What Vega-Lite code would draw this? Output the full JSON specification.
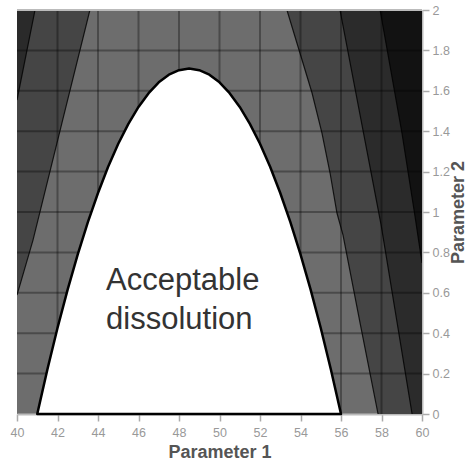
{
  "$schema": "https://vega.github.io/schema/vega-lite/v6.json",
  "width": 405,
  "height": 404,
  "autosize": {"type": "none"},
  "padding": {"left": 17, "top": 10, "right": 49, "bottom": 55},
  "config": {
    "view": {"fill": "#6d6d6d", "stroke": null},
    "font": "Liberation Sans",
    "axis": {
      "grid": false,
      "domainColor": "#bbbbbb",
      "domainWidth": 2,
      "tickColor": "#aaaaaa",
      "tickSize": 7,
      "tickWidth": 1.5,
      "labelColor": "#999999",
      "labelFontSize": 12.5,
      "labelFont": "Liberation Sans",
      "labelFlush": false,
      "labelOverlap": false,
      "titleFont": "Liberation Sans",
      "titleFontSize": 18,
      "titleFontWeight": "bold",
      "titleColor": "#555555"
    }
  },
  "datasets": {
    "bands": [
      {"id": "L2", "y": 0.589, "x": 40, "xe": 40},
      {"id": "L2", "y": 0.861, "x": 40.79, "xe": 40},
      {"id": "L2", "y": 1.441, "x": 42.22, "xe": 40},
      {"id": "L2", "y": 2, "x": 43.6, "xe": 40},
      {"id": "L1", "y": 1.554, "x": 40, "xe": 40},
      {"id": "L1", "y": 2, "x": 40.89, "xe": 40},
      {"id": "R3", "y": 0, "x": 57.83, "xe": 60},
      {"id": "R3", "y": 0.441, "x": 56.96, "xe": 60},
      {"id": "R3", "y": 0.886, "x": 56.1, "xe": 60},
      {"id": "R3", "y": 0.995, "x": 55.8, "xe": 60},
      {"id": "R3", "y": 1.193, "x": 55.46, "xe": 60},
      {"id": "R3", "y": 1.391, "x": 55.06, "xe": 60},
      {"id": "R3", "y": 1.589, "x": 54.57, "xe": 60},
      {"id": "R3", "y": 2, "x": 53.33, "xe": 60},
      {"id": "R4", "y": 0, "x": 59.51, "xe": 60},
      {"id": "R4", "y": 0.936, "x": 57.98, "xe": 60},
      {"id": "R4", "y": 2, "x": 55.95, "xe": 60},
      {"id": "R5", "y": 0.748, "x": 60, "xe": 60},
      {"id": "R5", "y": 0.995, "x": 59.63, "xe": 60},
      {"id": "R5", "y": 1.391, "x": 59.01, "xe": 60},
      {"id": "R5", "y": 2, "x": 57.93, "xe": 60}
    ],
    "white": [
      {"px": 41, "py": 0}, {"px": 41.5, "py": 0.22}, {"px": 42, "py": 0.426},
      {"px": 42.5, "py": 0.616}, {"px": 43, "py": 0.79}, {"px": 43.5, "py": 0.95},
      {"px": 44, "py": 1.094}, {"px": 44.5, "py": 1.224}, {"px": 45, "py": 1.338},
      {"px": 45.5, "py": 1.436}, {"px": 46, "py": 1.52}, {"px": 46.5, "py": 1.588},
      {"px": 47, "py": 1.642}, {"px": 47.5, "py": 1.68}, {"px": 48, "py": 1.702},
      {"px": 48.5, "py": 1.71}, {"px": 49, "py": 1.702}, {"px": 49.5, "py": 1.68},
      {"px": 50, "py": 1.642}, {"px": 50.5, "py": 1.588}, {"px": 51, "py": 1.52},
      {"px": 51.5, "py": 1.436}, {"px": 52, "py": 1.338}, {"px": 52.5, "py": 1.224},
      {"px": 53, "py": 1.094}, {"px": 53.5, "py": 0.95}, {"px": 54, "py": 0.79},
      {"px": 54.5, "py": 0.616}, {"px": 55, "py": 0.426}, {"px": 55.5, "py": 0.22},
      {"px": 56, "py": 0}
    ],
    "gx": [{"v": 42}, {"v": 44}, {"v": 46}, {"v": 48}, {"v": 50}, {"v": 52}, {"v": 54}, {"v": 56}, {"v": 58}],
    "gy": [{"v": 0.2}, {"v": 0.4}, {"v": 0.6}, {"v": 0.8}, {"v": 1}, {"v": 1.2}, {"v": 1.4}, {"v": 1.6}, {"v": 1.8}],
    "labels": [
      {"t": "Acceptable", "x": 44.4, "y": 0.614},
      {"t": "dissolution", "x": 44.4, "y": 0.421}
    ],
    "top": [{"v": 2}]
  },
  "encoding": {
    "x": {"type": "quantitative"},
    "y": {"type": "quantitative"}
  },
  "layer": [
    {
      "data": {"name": "bands"},
      "transform": [{"filter": "datum.id === 'L2'"}],
      "mark": {"type": "area", "orient": "horizontal", "color": "#454545", "clip": true},
      "encoding": {
        "y": {"field": "y", "type": "quantitative", "scale": {"domain": [0, 2], "nice": false, "zero": false},
          "axis": {"orient": "right", "values": [0, 0.2, 0.4, 0.6, 0.8, 1, 1.2, 1.4, 1.6, 1.8, 2], "format": "~g", "title": "Parameter 2", "titleAngle": 270, "titleBaseline": "top", "titlePadding": 0, "labelPadding": 3}},
        "x": {"field": "x", "type": "quantitative", "scale": {"domain": [40, 60], "nice": false, "zero": false},
          "axis": {"values": [40, 42, 44, 46, 48, 50, 52, 54, 56, 58, 60], "title": "Parameter 1", "labelPadding": 5, "titlePadding": 5}},
        "x2": {"field": "xe"}
      }
    },
    {
      "data": {"name": "bands"},
      "transform": [{"filter": "datum.id === 'L1'"}],
      "mark": {"type": "area", "orient": "horizontal", "color": "#2a2a2a", "clip": true},
      "encoding": {"y": {"field": "y", "type": "quantitative"}, "x": {"field": "x", "type": "quantitative"}, "x2": {"field": "xe"}}
    },
    {
      "data": {"name": "bands"},
      "transform": [{"filter": "datum.id === 'R3'"}],
      "mark": {"type": "area", "orient": "horizontal", "color": "#454545", "clip": true},
      "encoding": {"y": {"field": "y", "type": "quantitative"}, "x": {"field": "x", "type": "quantitative"}, "x2": {"field": "xe"}}
    },
    {
      "data": {"name": "bands"},
      "transform": [{"filter": "datum.id === 'R4'"}],
      "mark": {"type": "area", "orient": "horizontal", "color": "#2b2b2b", "clip": true},
      "encoding": {"y": {"field": "y", "type": "quantitative"}, "x": {"field": "x", "type": "quantitative"}, "x2": {"field": "xe"}}
    },
    {
      "data": {"name": "bands"},
      "transform": [{"filter": "datum.id === 'R5'"}],
      "mark": {"type": "area", "orient": "horizontal", "color": "#121212", "clip": true},
      "encoding": {"y": {"field": "y", "type": "quantitative"}, "x": {"field": "x", "type": "quantitative"}, "x2": {"field": "xe"}}
    },
    {
      "data": {"name": "bands"},
      "mark": {"type": "line", "color": "#000000", "strokeWidth": 1.2, "opacity": 0.8, "clip": true},
      "encoding": {
        "y": {"field": "y", "type": "quantitative"},
        "x": {"field": "x", "type": "quantitative"},
        "detail": {"field": "id"},
        "order": {"field": "y", "type": "quantitative"}
      }
    },
    {
      "data": {"name": "gx"},
      "mark": {"type": "rule", "color": "#000000", "opacity": 0.32, "strokeWidth": 2},
      "encoding": {"x": {"field": "v", "type": "quantitative"}}
    },
    {
      "data": {"name": "gy"},
      "mark": {"type": "rule", "color": "#000000", "opacity": 0.32, "strokeWidth": 2},
      "encoding": {"y": {"field": "v", "type": "quantitative"}}
    },
    {
      "data": {"name": "white"},
      "mark": {"type": "area", "orient": "vertical", "fill": "#ffffff", "stroke": "#000000", "strokeWidth": 2.5, "strokeJoin": "round"},
      "encoding": {
        "x": {"field": "px", "type": "quantitative"},
        "y": {"field": "py", "type": "quantitative"}
      }
    },
    {
      "data": {"name": "labels"},
      "mark": {"type": "text", "align": "left", "baseline": "alphabetic", "fontSize": 31, "font": "Liberation Sans", "color": "#333333"},
      "encoding": {
        "x": {"field": "x", "type": "quantitative"},
        "y": {"field": "y", "type": "quantitative"},
        "text": {"field": "t"}
      }
    },
    {
      "data": {"name": "top"},
      "mark": {"type": "rule", "color": "#bbbbbb", "strokeWidth": 2},
      "encoding": {"y": {"field": "v", "type": "quantitative"}}
    }
  ]
}
